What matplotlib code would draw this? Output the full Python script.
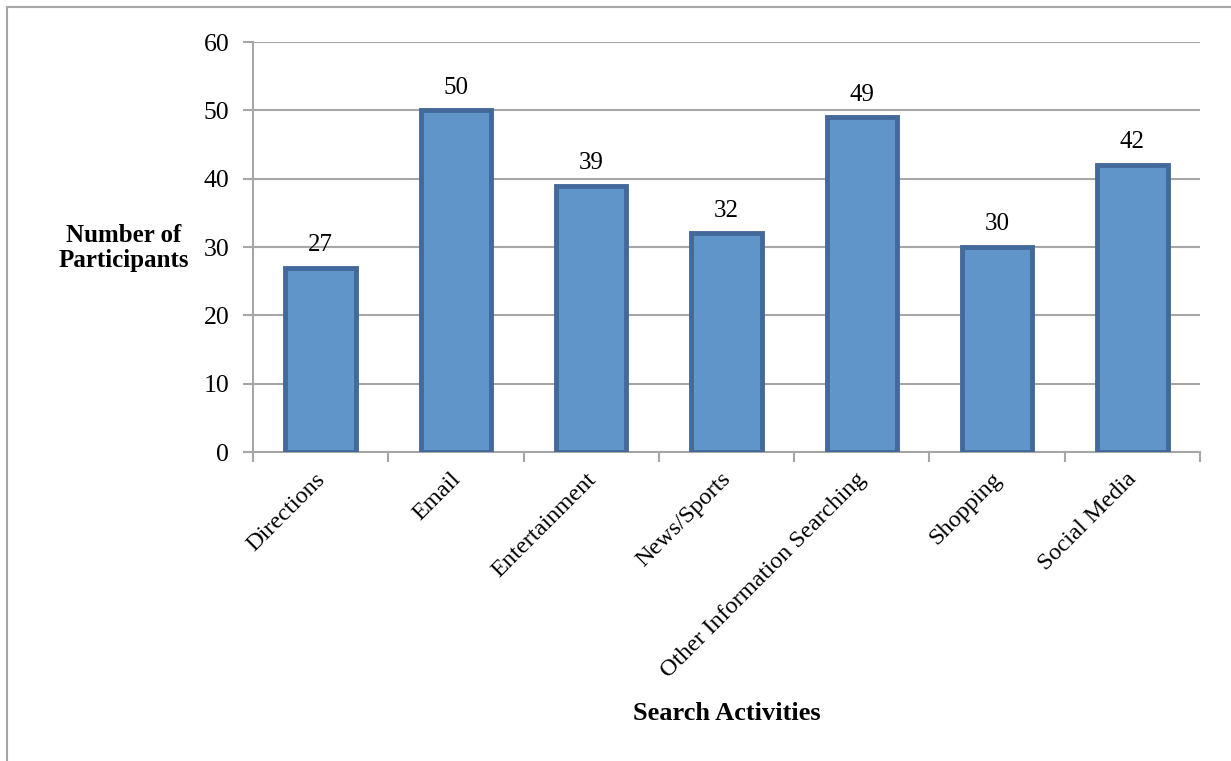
import matplotlib
matplotlib.use("Agg")
import matplotlib.pyplot as plt
import matplotlib.transforms as mtransforms
from matplotlib.lines import Line2D
import numpy as np

plt.rcParams["font.family"] = ["Liberation Serif", "DejaVu Serif"]

categories = ["Directions", "Email", "Entertainment", "News/Sports",
              "Other Information Searching", "Shopping", "Social Media"]
participants = [27, 50, 39, 32, 49, 30, 42]
y_ticks = [0, 10, 20, 30, 40, 50, 60]

GRID = "#A6A6A6"
FACE = "#5F95C9"
EDGE = "#43699A"

fig = plt.figure(figsize=(12.31, 7.61), dpi=100)
ax = fig.add_axes([0.2055, 0.406, 0.7693, 0.5388])

x = np.arange(len(categories))
bars = ax.bar(x, participants, width=0.52, color=FACE, edgecolor=EDGE,
              linewidth=3.5, zorder=3)

for xi, v in zip(x, participants):
    ax.text(xi, v + 1.7, str(v), ha="center", va="bottom", fontsize=18)

ax.set_xlim(-0.5, len(categories) - 0.5)
ax.set_ylim(0, 60)
ax.set_yticks(y_ticks)
ax.yaxis.grid(True, color=GRID, linewidth=1.5, zorder=0)
ax.tick_params(axis="y", labelsize=18.5, length=7, width=1.5, color=GRID, pad=10)

# category ticks sit between bars, labels under the bar centres
ax.set_xticks(np.arange(len(categories) + 1) - 0.5)
ax.set_xticklabels([])
ax.set_xticks(x, minor=True)
ax.set_xticklabels(categories, minor=True, rotation=45, ha="right",
                   rotation_mode="anchor", fontsize=17.5)
ax.tick_params(axis="x", which="major", length=7, width=1.5, color=GRID)
ax.tick_params(axis="x", which="minor", length=0, pad=12)
shift = mtransforms.ScaledTranslation(-6 / 100, 0, fig.dpi_scale_trans)
for lbl in ax.get_xticklabels(minor=True):
    lbl.set_transform(lbl.get_transform() + shift)

for s in ["top", "right"]:
    ax.spines[s].set_visible(False)
for s in ["left", "bottom"]:
    ax.spines[s].set_color(GRID)
    ax.spines[s].set_linewidth(1.5)

fig.text(124 / 1231, 1 - 248 / 761, "Number of\nParticipants", ha="center",
         va="center", fontsize=18, fontweight="bold", linespacing=1.1)
fig.text(727 / 1231, 1 - 713 / 761, "Search Activities", ha="center",
         va="center", fontsize=19, fontweight="bold")

# outer chart frame (only top and left edges fall inside the picture)
fig.add_artist(Line2D([7 / 1231, 1.0], [1 - 7 / 761, 1 - 7 / 761],
                      transform=fig.transFigure, color=GRID, linewidth=1.5))
fig.add_artist(Line2D([7 / 1231, 7 / 1231], [0.0, 1 - 7 / 761],
                      transform=fig.transFigure, color=GRID, linewidth=1.5))

fig.savefig("out.png", dpi=100)
